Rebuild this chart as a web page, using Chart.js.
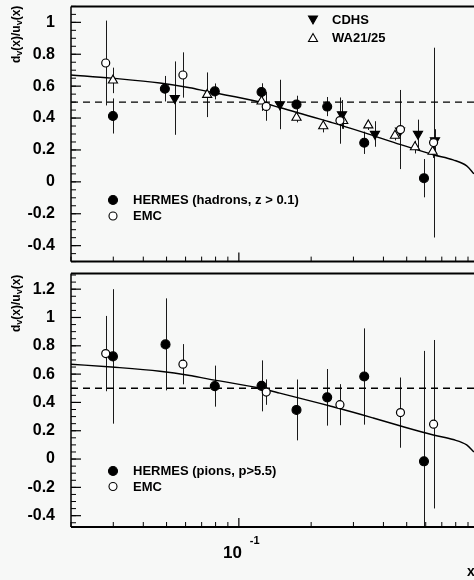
<!DOCTYPE html>
<html><head><meta charset="utf-8">
<script src="https://cdn.jsdelivr.net/npm/chart.js@4"></script>
<style>
html,body{margin:0;padding:0;background:#f7f8f7;overflow:hidden;width:474px;height:580px;position:relative;}
#c1{position:absolute;left:0;top:0;}
#c2{position:absolute;left:0;top:268px;}
</style></head><body>
<canvas id="c1" width="490" height="268"></canvas>
<canvas id="c2" width="490" height="312"></canvas>
<script>
// ---- data ----
const emcX = [0.0279, 0.0585, 0.130, 0.2636, 0.471, 0.647];
const emcY = [0.745, 0.670, 0.473, 0.384, 0.328, 0.246];
const emcErr = [0.266, 0.142, 0.09, 0.145, 0.248, 0.595];

const hermesHadX = [0.0299, 0.0492, 0.0794, 0.1243, 0.1738, 0.2333, 0.3327, 0.590];
const hermesHadY = [0.413, 0.584, 0.567, 0.563, 0.485, 0.472, 0.245, 0.023];
const hermesHadErr = [0.11, 0.08, 0.05, 0.055, 0.055, 0.06, 0.07, 0.12];

const cdhsX = [0.0541, 0.1482, 0.2688, 0.3687, 0.469, 0.557, 0.6556];
const cdhsY = [0.525, 0.485, 0.423, 0.30, 0.32, 0.30, 0.26];
const cdhsErr = [0.23, 0.155, 0.09, 0.08, 0.07, 0.09, 0.07];

const waX = [0.0299, 0.0738, 0.1243, 0.1738, 0.2246, 0.272, 0.346, 0.4467, 0.5412, 0.641];
const waY = [0.636, 0.546, 0.505, 0.403, 0.35, 0.382, 0.355, 0.29, 0.218, 0.19];
const waErr = [0.08, 0.14, 0.06, 0.03, 0.04, 0.05, 0.03, 0.03, 0.04, 0.04];

const hermesPiX = [0.0299, 0.0495, 0.0794, 0.1243, 0.1738, 0.2333, 0.3327, 0.590];
const hermesPiY = [0.725, 0.81, 0.515, 0.517, 0.347, 0.436, 0.583, -0.016];
const hermesPiErr = [0.475, 0.325, 0.145, 0.18, 0.215, 0.2, 0.34, 0.78];

const curveX = [0.02, 0.0295, 0.0469, 0.0625, 0.0733, 0.1185, 0.148, 0.2396, 0.263, 0.3627, 0.4681, 0.6453, 0.7804, 0.8886, 0.9525];
const curveY = [0.670, 0.650, 0.620, 0.590, 0.568, 0.505, 0.466, 0.375, 0.357, 0.29, 0.235, 0.17, 0.138, 0.10, 0.05];

const refX = [0.02, 1];
const refY = [0.5, 0.5];

const xTickMajor = [0.1];
const xTickMinor = [0.02,0.03,0.04,0.05,0.06,0.07,0.08,0.09,0.2,0.3,0.4,0.5,0.6,0.7,0.8,0.9];
const yTicksTop = [-0.4,-0.2,0,0.2,0.4,0.6,0.8,1];
const yTicksBottom = [-0.4,-0.2,0,0.2,0.4,0.6,0.8,1,1.2];

const FONT = '"Liberation Sans", Arial, Helvetica, sans-serif';

function pts(X, Y, E) { return X.map((x, i) => ({x: x, y: Y[i], err: E ? E[i] : 0})); }

const errorBarPlugin = {
  id: 'errbars',
  beforeDatasetsDraw(chart) {
    const {ctx, chartArea: a, scales: {x, y}} = chart;
    ctx.save();
    ctx.beginPath(); ctx.rect(a.left, a.top, a.right - a.left, a.bottom - a.top); ctx.clip();
    ctx.strokeStyle = '#1a1a1a'; ctx.lineWidth = 1;
    chart.data.datasets.forEach(ds => {
      if (!ds.errorBars) return;
      ds.data.forEach(p => {
        const px = Math.round(x.getPixelForValue(p.x)) + 0.5;
        ctx.beginPath();
        ctx.moveTo(px, y.getPixelForValue(p.y - p.err));
        ctx.lineTo(px, y.getPixelForValue(p.y + p.err));
        ctx.stroke();
      });
    });
    ctx.restore();
  }
};

function drawMarker(ctx, kind, cx, cy) {
  ctx.save();
  ctx.lineWidth = 1.1; ctx.strokeStyle = '#000';
  ctx.beginPath();
  if (kind === 'fc' || kind === 'oc') {
    ctx.arc(cx, cy, kind === 'fc' ? 4.5 : 4, 0, Math.PI * 2);
    ctx.fillStyle = kind === 'fc' ? '#000' : '#fff';
  } else if (kind === 'dt') {
    ctx.moveTo(cx - 4.5, cy - 4); ctx.lineTo(cx + 4.5, cy - 4); ctx.lineTo(cx, cy + 4); ctx.closePath();
    ctx.fillStyle = '#000';
  } else {
    ctx.moveTo(cx - 4.5, cy + 4); ctx.lineTo(cx + 4.5, cy + 4); ctx.lineTo(cx, cy - 4); ctx.closePath();
    ctx.fillStyle = '#fff';
  }
  ctx.fill(); ctx.stroke();
  ctx.restore();
}

function framePlugin(opts) {
  return {
    id: 'frame',
    afterDraw(chart) {
      const {ctx, chartArea: a, scales: {x, y}} = chart;
      ctx.save();
      ctx.strokeStyle = '#000';
      ctx.lineWidth = 2;
      ctx.beginPath(); ctx.moveTo(a.left, a.top); ctx.lineTo(a.right + 20, a.top); ctx.stroke();
      ctx.beginPath(); ctx.moveTo(a.left, a.bottom); ctx.lineTo(a.right + 20, a.bottom); ctx.stroke();
      ctx.lineWidth = 1.5;
      ctx.beginPath(); ctx.moveTo(a.left, a.top); ctx.lineTo(a.left, a.bottom); ctx.stroke();
      ctx.lineWidth = 1.2;
      opts.yTicks.forEach(v => {
        const py = y.getPixelForValue(v);
        ctx.beginPath(); ctx.moveTo(a.left, py); ctx.lineTo(a.left + 10, py); ctx.stroke();
      });
      ctx.lineWidth = 1;
      for (let k = Math.ceil(y.min / 0.05); k * 0.05 <= y.max; k++) {
        const py = y.getPixelForValue(k * 0.05);
        ctx.beginPath(); ctx.moveTo(a.left, py); ctx.lineTo(a.left + 5, py); ctx.stroke();
      }
      ctx.lineWidth = 1.2;
      xTickMajor.forEach(v => {
        const px = x.getPixelForValue(v);
        ctx.beginPath(); ctx.moveTo(px, a.bottom); ctx.lineTo(px, a.bottom - 9); ctx.stroke();
      });
      ctx.lineWidth = 1;
      xTickMinor.forEach(v => {
        const px = x.getPixelForValue(v);
        ctx.beginPath(); ctx.moveTo(px, a.bottom); ctx.lineTo(px, a.bottom - 5); ctx.stroke();
      });
      ctx.fillStyle = '#000';
      ctx.save();
      ctx.translate(16.5, opts.titleBottom);
      ctx.rotate(-Math.PI / 2);
      ctx.textBaseline = 'middle';
      ctx.textAlign = 'left';
      let tx = 0;
      const parts = [['d', 0], ['v', 1], ['(x)/u', 0], ['v', 1], ['(x)', 0]];
      parts.forEach(([s, sub]) => {
        ctx.font = 'bold ' + (sub ? 9 : 12) + 'px ' + FONT;
        ctx.fillText(s, tx, sub ? 3.5 : 0);
        tx += ctx.measureText(s).width;
      });
      ctx.restore();
      ctx.font = 'bold 13px ' + FONT;
      ctx.textBaseline = 'middle';
      ctx.textAlign = 'left';
      opts.legend.forEach(l => {
        drawMarker(ctx, l.kind, l.mx, l.my);
        ctx.fillStyle = '#000';
        ctx.fillText(l.text, l.tx, l.my + 0.5);
      });
      if (opts.xLabels) {
        const p1 = x.getPixelForValue(0.1);
        ctx.textBaseline = 'alphabetic';
        ctx.textAlign = 'right';
        ctx.font = 'bold 17px ' + FONT;
        ctx.fillText('10', p1 + 3, a.bottom + 30.5);
        ctx.textAlign = 'left';
        ctx.font = 'bold 11px ' + FONT;
        ctx.fillText('-1', p1 + 11, a.bottom + 16.5);
        ctx.font = 'bold 14px ' + FONT;
        ctx.fillText('x', 467, a.bottom + 49);
      }
      ctx.restore();
    }
  };
}

function makePanel(canvas, o) {
  const datasets = o.series.map(s => Object.assign({
    type: 'scatter', showLine: false, errorBars: true, borderWidth: 1.1, borderColor: '#000'
  }, s));
  datasets.push({
    type: 'scatter', data: pts(curveX, curveY), showLine: true, pointRadius: 0,
    borderColor: '#000', borderWidth: 1.4, cubicInterpolationMode: 'monotone', order: 5
  });
  datasets.push({
    type: 'scatter', data: pts(refX, refY), showLine: true, pointRadius: 0,
    borderColor: '#000', borderWidth: 1.4, borderDash: [7, 5], order: 6
  });
  return new Chart(canvas, {
    type: 'scatter',
    data: {datasets},
    options: {
      responsive: false, animation: false, events: [],
      layout: {padding: {top: o.padTop, bottom: o.padBottom, left: 0, right: 11}},
      plugins: {legend: {display: false}, tooltip: {enabled: false}},
      scales: {
        x: {type: 'logarithmic', min: 0.02, max: 1, display: false},
        y: {
          type: 'linear', min: o.ymin, max: o.ymax,
          grid: {display: false, drawTicks: false}, border: {display: false},
          afterBuildTicks: s => { s.ticks = o.yTicks.map(v => ({value: v})); },
          afterFit: s => { s.width = 71; s.paddingTop = 0; s.paddingBottom = 0; },
          ticks: {
            padding: 16, color: '#000',
            font: {family: FONT, weight: 'bold', size: 16},
            callback: v => String(Math.round(v * 10) / 10)
          }
        }
      }
    },
    plugins: [errorBarPlugin, framePlugin(o)]
  });
}

const emcStyle = {pointStyle: 'circle', pointRadius: 4, backgroundColor: '#fff', borderColor: '#000', borderWidth: 1.2};

makePanel(document.getElementById('c1'), {
  ymin: -0.5, ymax: 1.1, yTicks: yTicksTop, padTop: 5, padBottom: 3, titleBottom: 63, xLabels: false,
  series: [
    Object.assign({data: pts(emcX, emcY, emcErr), order: 1}, emcStyle),
    {data: pts(hermesHadX, hermesHadY, hermesHadErr), pointStyle: 'circle', pointRadius: 4.5, backgroundColor: '#000', order: 2},
    {data: pts(cdhsX, cdhsY, cdhsErr), pointStyle: 'triangle', pointRotation: 180, pointRadius: 5.3, backgroundColor: '#000', order: 3},
    {data: pts(waX, waY, waErr), pointStyle: 'triangle', pointRadius: 5.3, backgroundColor: '#fff', order: 4}
  ],
  legend: [
    {kind: 'dt', mx: 313, my: 20, tx: 332, text: 'CDHS'},
    {kind: 'ut', mx: 313, my: 37.5, tx: 332, text: 'WA21/25'},
    {kind: 'fc', mx: 113, my: 200, tx: 133, text: 'HERMES (hadrons, z > 0.1)'},
    {kind: 'oc', mx: 113, my: 216, tx: 133, text: 'EMC'}
  ]
});

makePanel(document.getElementById('c2'), {
  ymin: -0.48, ymax: 1.31, yTicks: yTicksBottom, padTop: 3, padBottom: 53, titleBottom: 64, xLabels: true,
  series: [
    Object.assign({data: pts(emcX, emcY, emcErr), order: 1}, emcStyle),
    {data: pts(hermesPiX, hermesPiY, hermesPiErr), pointStyle: 'circle', pointRadius: 4.5, backgroundColor: '#000', order: 2}
  ],
  legend: [
    {kind: 'fc', mx: 113, my: 203, tx: 133, text: 'HERMES (pions, p>5.5)'},
    {kind: 'oc', mx: 113, my: 218.5, tx: 133, text: 'EMC'}
  ]
});
</script>
</body></html>
